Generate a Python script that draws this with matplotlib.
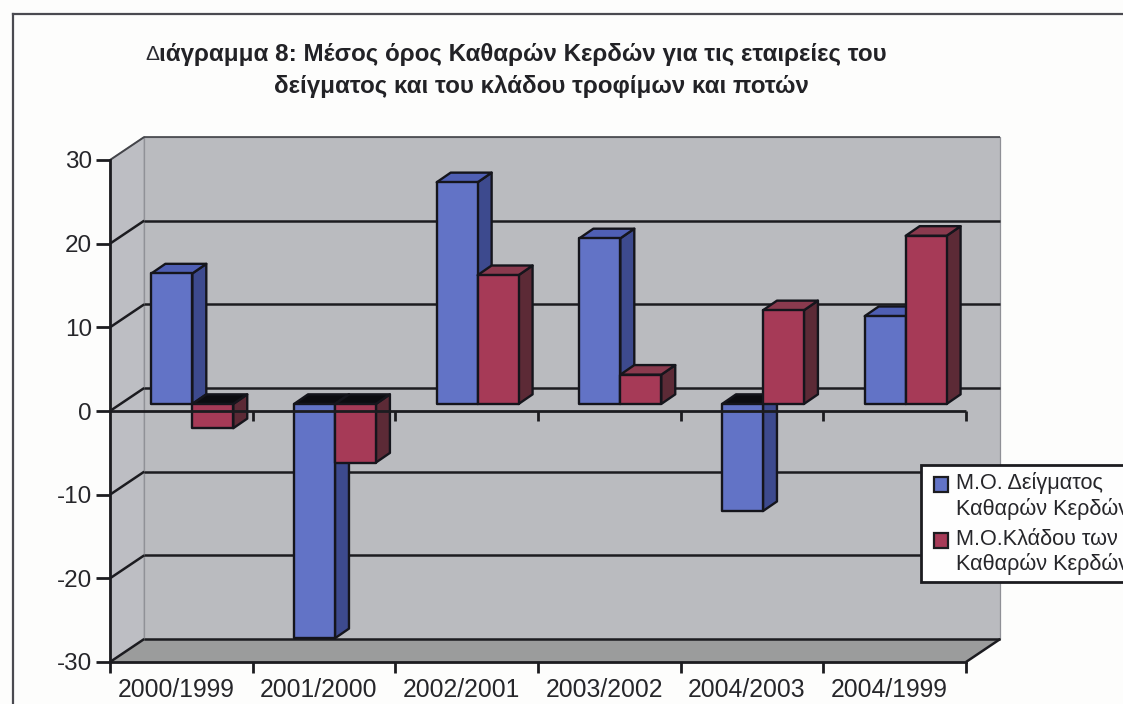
import matplotlib
matplotlib.use("Agg")
import matplotlib.pyplot as plt
from matplotlib.legend_handler import HandlerPatch
from matplotlib.patches import Polygon, Patch, Rectangle
from matplotlib.transforms import ScaledTranslation

plt.rcParams['font.family'] = ['Liberation Sans', 'DejaVu Sans']
plt.rcParams['axes.unicode_minus'] = False

categories = ['2000/1999', '2001/2000', '2002/2001', '2003/2002', '2004/2003', '2004/1999']
sample_values = [15.6, -28.0, 26.5, 19.8, -12.8, 10.5]
sector_values = [-2.9, -7.0, 15.4, 3.5, 11.2, 20.1]
y_ticks = [-30, -20, -10, 0, 10, 20, 30]
sample_label = 'Μ.Ο. Δείγματος\nΚαθαρών Κερδών'
sector_label = 'Μ.Ο.Κλάδου των\nΚαθαρών Κερδών'
title_1 = 'ιάγραμμα 8: Μέσος όρος Καθαρών Κερδών για τις εταιρείες του'
title_2 = 'δείγματος και του κλάδου τροφίμων και ποτών'

W, H = 1123, 704
BG = '#fdfdfc'
INK = '#1c1c20'
WALL = '#babbbf'
SIDE = '#bdbec3'
FLOOR = '#9b9c9c'
BLUE = {'front': '#6273c6', 'top': '#4f5fb4', 'side': '#3d4a8e'}
RED = {'front': '#a63a57', 'top': '#8a3a4e', 'side': '#5c2a36'}

fig = plt.figure(figsize=(W / 100, H / 100), dpi=100, facecolor=BG)
ax = fig.add_axes([110 / W, 1 - 662 / H, 856 / W, 502 / H], facecolor='none')
ax.set_xlim(0, 6)
ax.set_ylim(-30, 30)

# depth of the 3D box, in data units
DX, DY = 0.24, 2.75
BAR_OX, BAR_OY = 0.077, 0.84      # front plane of the bars
BAR_DX, BAR_DY = 0.098, 1.15      # depth of one bar
BAR_W = 0.287


def poly(pts, fc, z, ec='none', lw=0.0):
    ax.add_patch(Polygon(pts, closed=True, facecolor=fc, edgecolor=ec, linewidth=lw,
                         zorder=z, clip_on=False, joinstyle='round'))


def line(xs, ys, z=2, lw=1.8, c=INK):
    ax.plot(xs, ys, color=c, lw=lw, zorder=z, clip_on=False, solid_capstyle='butt')


# walls and floor
poly([(DX, -30 + DY), (6 + DX, -30 + DY), (6 + DX, 30 + DY), (DX, 30 + DY)], WALL, 1, '#8f9096', 0.9)
poly([(0, -30), (DX, -30 + DY), (DX, 30 + DY), (0, 30)], SIDE, 1, '#8f9096', 0.9)
poly([(0, -30), (6, -30), (6 + DX, -30 + DY), (DX, -30 + DY)], FLOOR, 1.1)

# gridlines on both walls
for v in y_ticks:
    if v != 30:
        line([DX, 6 + DX], [v + DY, v + DY], 2)
        line([0, DX], [v, v + DY], 2)
line([DX, 6 + DX], [30 + DY, 30 + DY], 2, 1.2, '#44454a')
line([0, DX], [30, 30 + DY], 2, 1.4, '#44454a')
line([6, 6 + DX], [-30, -30 + DY], 2)


def draw_bar(x0, v, col, z):
    x1 = x0 + BAR_W
    b = BAR_OY
    d, e = BAR_DX, BAR_DY
    edge = dict(ec='#15151c', lw=1.7)
    if v >= 0:
        poly([(x1, b), (x1 + d, b + e), (x1 + d, v + b + e), (x1, v + b)], col['side'], z, **edge)
        poly([(x0, v + b), (x1, v + b), (x1 + d, v + b + e), (x0 + d, v + b + e)], col['top'], z, **edge)
    else:
        poly([(x1, b), (x1 + d, b + e), (x1 + d, v + b + e), (x1, v + b)], col['side'], z, **edge)
        poly([(x0, b), (x1, b), (x1 + d, b + e), (x0 + d, b + e)], '#0c0c10', z, **edge)
    poly([(x0, b), (x1, b), (x1, v + b), (x0, v + b)], col['front'], z + 0.1, **edge)


for i, (a, b) in enumerate(zip(sample_values, sector_values)):
    c = i + 0.5 + BAR_OX
    draw_bar(c - BAR_W, a, BLUE, 3 + i * 0.5)
    draw_bar(c, b, RED, 3.2 + i * 0.5)

# front zero axis with its ticks, over the bars
line([0, 6], [0, 0], 7, 2.0)
for i in range(1, 7):
    line([i, i], [0, -1.2], 7, 2.0)

# axes
for s in ('top', 'right'):
    ax.spines[s].set_visible(False)
for s in ('left', 'bottom'):
    ax.spines[s].set_linewidth(2.0)
    ax.spines[s].set_color(INK)
    ax.spines[s].set_zorder(8)
ax.set_yticks(y_ticks)
ax.tick_params(axis='y', length=10, width=2.0, color=INK, pad=3, labelsize=17.5, labelcolor='#26262a')
ax.set_xticks(range(7))
ax.set_xticklabels([''] * 7)
ax.tick_params(axis='x', which='major', length=8, width=2.0, color=INK)
ax.set_xticks([i + 0.5 for i in range(6)], minor=True)
ax.set_xticklabels(categories, minor=True)
ax.tick_params(axis='x', which='minor', length=0, pad=11.5, labelsize=17.8, labelcolor='#26262a')
shift = ScaledTranslation(-5 / 100, 0, fig.dpi_scale_trans)
for t in ax.get_xticklabels(minor=True):
    t.set_transform(t.get_transform() + shift)

# title
fig.text(145 / W, 1 - 54 / H, 'Δ', fontsize=15, color='#2a2a30', va='center', ha='left')
fig.text(159 / W, 1 - 54 / H, title_1, fontsize=17.4, fontweight='bold', color='#222226', va='center', ha='left')
fig.text(274 / W, 1 - 86 / H, title_2, fontsize=17.4, fontweight='bold', color='#222226', va='center', ha='left')

# outer frame (open at right and bottom, as in the scan)
fig.add_artist(plt.Line2D([13 / W, 13 / W], [0, 1 - 14 / H], color='#4a4a50', lw=1.6))
fig.add_artist(plt.Line2D([13 / W, 1], [1 - 14 / H, 1 - 14 / H], color='#4a4a50', lw=1.6))


# legend: marker sits on the first of the two text lines
def first_line_patch(legend, orig_handle, xdescent, ydescent, width, height, fontsize):
    return Rectangle((-xdescent + 4.3, -ydescent + 8.6), 10.1, height)


handles = [Patch(facecolor=BLUE['front'], edgecolor=INK, lw=1.6, label=sample_label),
           Patch(facecolor=RED['front'], edgecolor=INK, lw=1.6, label=sector_label)]
leg = fig.legend(handles=handles, loc='upper left', bbox_to_anchor=(921 / W, 1 - 465 / H),
                 frameon=True, fancybox=False, framealpha=1, facecolor='#fefefe', edgecolor=INK,
                 fontsize=15.6, handlelength=0.93, handleheight=0.65, handletextpad=0.35,
                 labelspacing=0.42, borderpad=0.33, borderaxespad=0, labelcolor='#26262a',
                 handler_map={Patch: HandlerPatch(patch_func=first_line_patch)})
leg.get_frame().set_linewidth(2.0)
leg.set_zorder(20)

fig.savefig('out.png', dpi=100, facecolor=BG)
